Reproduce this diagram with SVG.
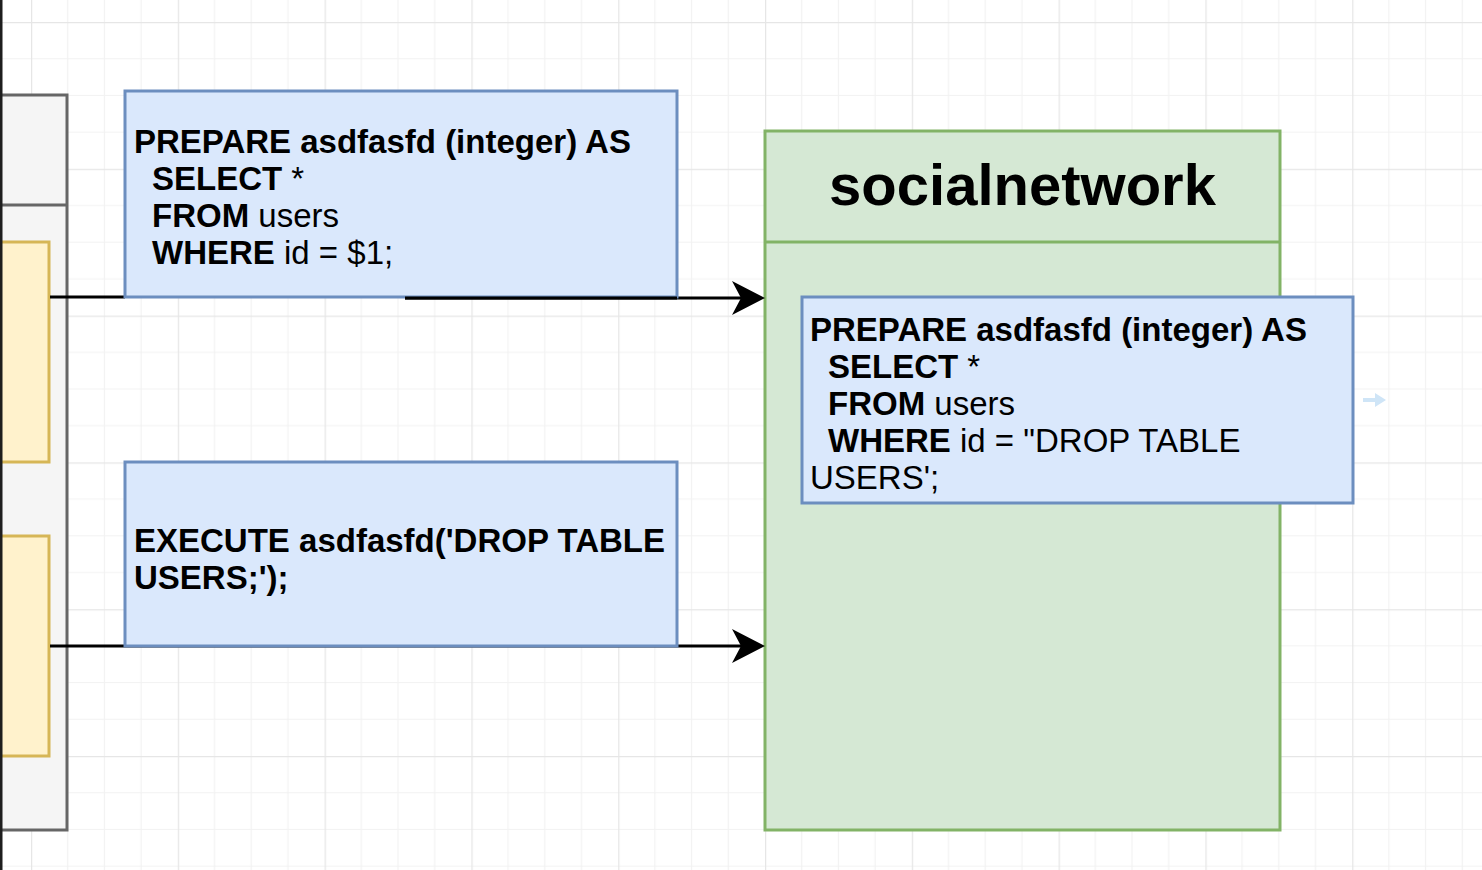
<svg xmlns="http://www.w3.org/2000/svg" width="1482" height="870" viewBox="0 0 1482 870">
  <style>
    .t { font-family: "Liberation Sans", Arial, Helvetica, sans-serif; font-size: 33px; fill: #000; }
    .b { font-weight: bold; }
    .title { font-family: "Liberation Sans", Arial, Helvetica, sans-serif; font-size: 58px; font-weight: bold; fill: #000; }
    .blue { fill: #dae8fc; stroke: #6c8ebf; stroke-width: 3; }
    .yellow { fill: #fff2cc; stroke: #d6b656; stroke-width: 3; }
    .gray { fill: #f5f5f5; stroke: #666666; stroke-width: 3; }
    .green { fill: #d5e8d4; stroke: #82b366; stroke-width: 3; }
    .edge { fill: none; stroke: #000; stroke-width: 3; }
  </style>
  <defs>
    <pattern id="grid" patternUnits="userSpaceOnUse" x="31" y="22" width="146.8" height="146.8">
      <path d="M36.7,0 V146.8 M73.4,0 V146.8 M110.1,0 V146.8 M0,36.7 H146.8 M0,73.4 H146.8 M0,110.1 H146.8" stroke="#f2f2f2" stroke-width="1.2" fill="none"/>
      <path d="M0.5,0 V146.8 M0,0.5 H146.8" stroke="#e6e6e6" stroke-width="1.5" fill="none"/>
    </pattern>
    <marker id="arrow" viewBox="0 0 34 34" refX="10" refY="17" markerWidth="34" markerHeight="34" markerUnits="userSpaceOnUse" orient="auto">
      <path d="M0,0 L33,17 L0,34 L9,17 Z" fill="#000"/>
    </marker>
  </defs>

  <rect x="0" y="0" width="1482" height="870" fill="#ffffff"/>
  <rect x="0" y="0" width="1482" height="870" fill="url(#grid)"/>

  <g id="client">
    <rect class="gray" x="-10" y="95" width="77" height="735"/>
    <line x1="-10" y1="205" x2="67" y2="205" stroke="#666666" stroke-width="3"/>
  </g>
  <g id="client-item-1">
    <rect class="yellow" x="-10" y="242" width="59" height="220"/>
  </g>
  <g id="client-item-2">
    <rect class="yellow" x="-10" y="536" width="59" height="220"/>
  </g>

  <g id="socialnetwork">
    <rect class="green" x="765" y="131" width="515" height="699"/>
    <line x1="765" y1="242" x2="1280" y2="242" stroke="#82b366" stroke-width="3"/>
    <text class="title" x="1022.5" y="205" text-anchor="middle">socialnetwork</text>
  </g>

  <g id="connectors">
    <path class="edge" d="M50,297 H125"/>
    <path class="edge" d="M405,298 H742" marker-end="url(#arrow)"/>
    <path class="edge" d="M50,646 H742" marker-end="url(#arrow)"/>
  </g>

  <g id="prepare-query">
    <rect class="blue" x="125" y="91" width="552" height="206"/>
    <text class="t b" x="134" y="153">PREPARE asdfasfd (integer) AS</text>
    <text class="t" x="152" y="190"><tspan class="b">SELECT</tspan> *</text>
    <text class="t" x="152" y="227"><tspan class="b">FROM</tspan> users</text>
    <text class="t" x="152" y="264"><tspan class="b">WHERE</tspan> id = $1;</text>
  </g>
  <line x1="405" y1="298" x2="677" y2="298" stroke="#000" stroke-width="3"/>

  <g id="execute-query">
    <rect class="blue" x="125" y="462" width="552" height="184"/>
    <text class="t b" x="134" y="552">EXECUTE asdfasfd('DROP TABLE</text>
    <text class="t b" x="134" y="589">USERS;');</text>
  </g>

  <g id="prepared-statement">
    <rect class="blue" x="802" y="297" width="551" height="206"/>
    <text class="t b" x="810" y="341">PREPARE asdfasfd (integer) AS</text>
    <text class="t" x="828" y="378"><tspan class="b">SELECT</tspan> *</text>
    <text class="t" x="828" y="415"><tspan class="b">FROM</tspan> users</text>
    <text class="t" x="828" y="452"><tspan class="b">WHERE</tspan> id = "DROP TABLE</text>
    <text class="t" x="810" y="489">USERS';</text>
  </g>

  <g id="hover-arrow" fill="#cfe5f7">
    <rect x="1363" y="398" width="13" height="4"/>
    <path d="M1375,393 L1386,400 L1375,407 Z"/>
  </g>

  <rect x="0" y="0" width="2.5" height="870" fill="#1e1e1e"/>
</svg>
